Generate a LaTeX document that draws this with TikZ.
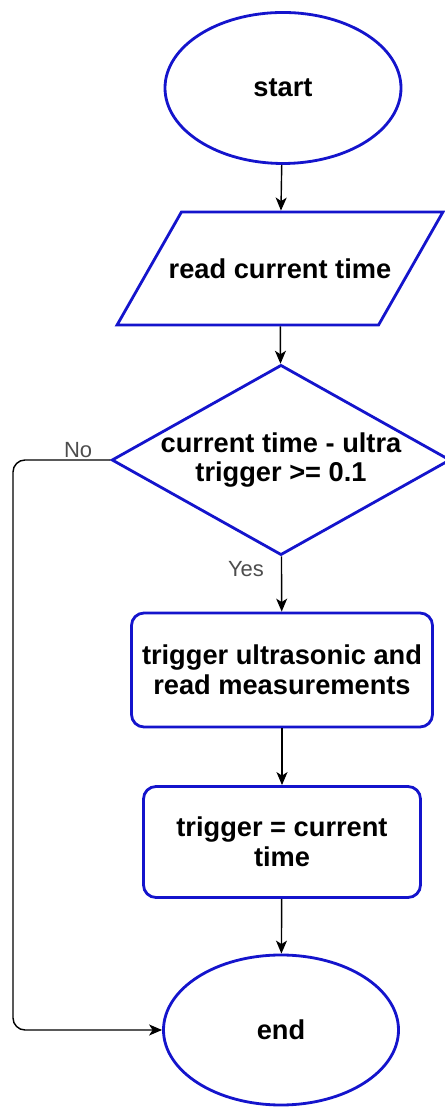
\documentclass[tikz,border=0pt]{standalone}
\usepackage{fontspec}
\setmainfont{Liberation Sans}
\usetikzlibrary{arrows.meta,positioning,shapes.geometric}
\definecolor{Outline}{HTML}{1414CC}
\definecolor{Note}{HTML}{4D4D4D}

\begin{document}
\begin{tikzpicture}[
    >={Stealth[length=2.6mm,width=2.2mm,inset=0.7mm]},
    block/.style={draw=Outline, line width=1.6pt, fill=white, align=center,
      font=\fontsize{15.5}{16.8}\selectfont\bfseries},
    terminal/.style={block, ellipse, minimum width=4.72cm, minimum height=3.02cm},
    process/.style={block, rectangle, rounded corners=0.25cm},
    flow/.style={->, line width=0.8pt},
    note/.style={font=\fontsize{12.5}{14}\selectfont, color=Note, inner sep=1pt}
  ]
    \useasboundingbox (0,0) rectangle (8.88,22.2);

    \node[terminal] (start) at (5.66,20.44) {start};
    \node[block, trapezium, trapezium left angle=60, trapezium right angle=120,
      trapezium stretches, minimum width=6.52cm, minimum height=2.26cm,
      inner xsep=-0.28cm, inner ysep=0.9cm] (read) at (5.60,16.83) {read current time};
    \node[block, diamond, minimum width=6.56cm, minimum height=3.68cm, aspect=1.78,
      inner sep=0pt] (cond) at (5.62,13.0) {current time - ultra\\trigger >= 0.1};
    \node[process, minimum width=6.02cm, minimum height=2.28cm] (measure) at (5.64,8.8)
      {trigger ultrasonic and\\read measurements};
    \node[process, minimum width=5.54cm, minimum height=2.22cm] (update) at (5.64,5.36)
      {trigger = current\\time};
    \node[terminal, minimum width=4.7cm, minimum height=3.0cm] (stop) at (5.62,1.6) {end};

    % main line
    \draw[flow] (start) -- (read);
    \draw[flow] (read) -- (cond);
    \draw[flow] (cond) -- (measure);
    \draw[flow] (measure) -- (update);
    \draw[flow] (update) -- (stop);

    % skip branch
    \coordinate (bend) at (0.26,1.6);
    \draw[flow, rounded corners=0.24cm] (cond.west) -| (bend) -- (stop.west);

    \node[note, above left=0pt and 0.32cm of cond.west] (no) {No};
    \node[note, below left=0.05cm and 0.3cm of cond.south] (yes) {Yes};
  \end{tikzpicture}
\end{document}
